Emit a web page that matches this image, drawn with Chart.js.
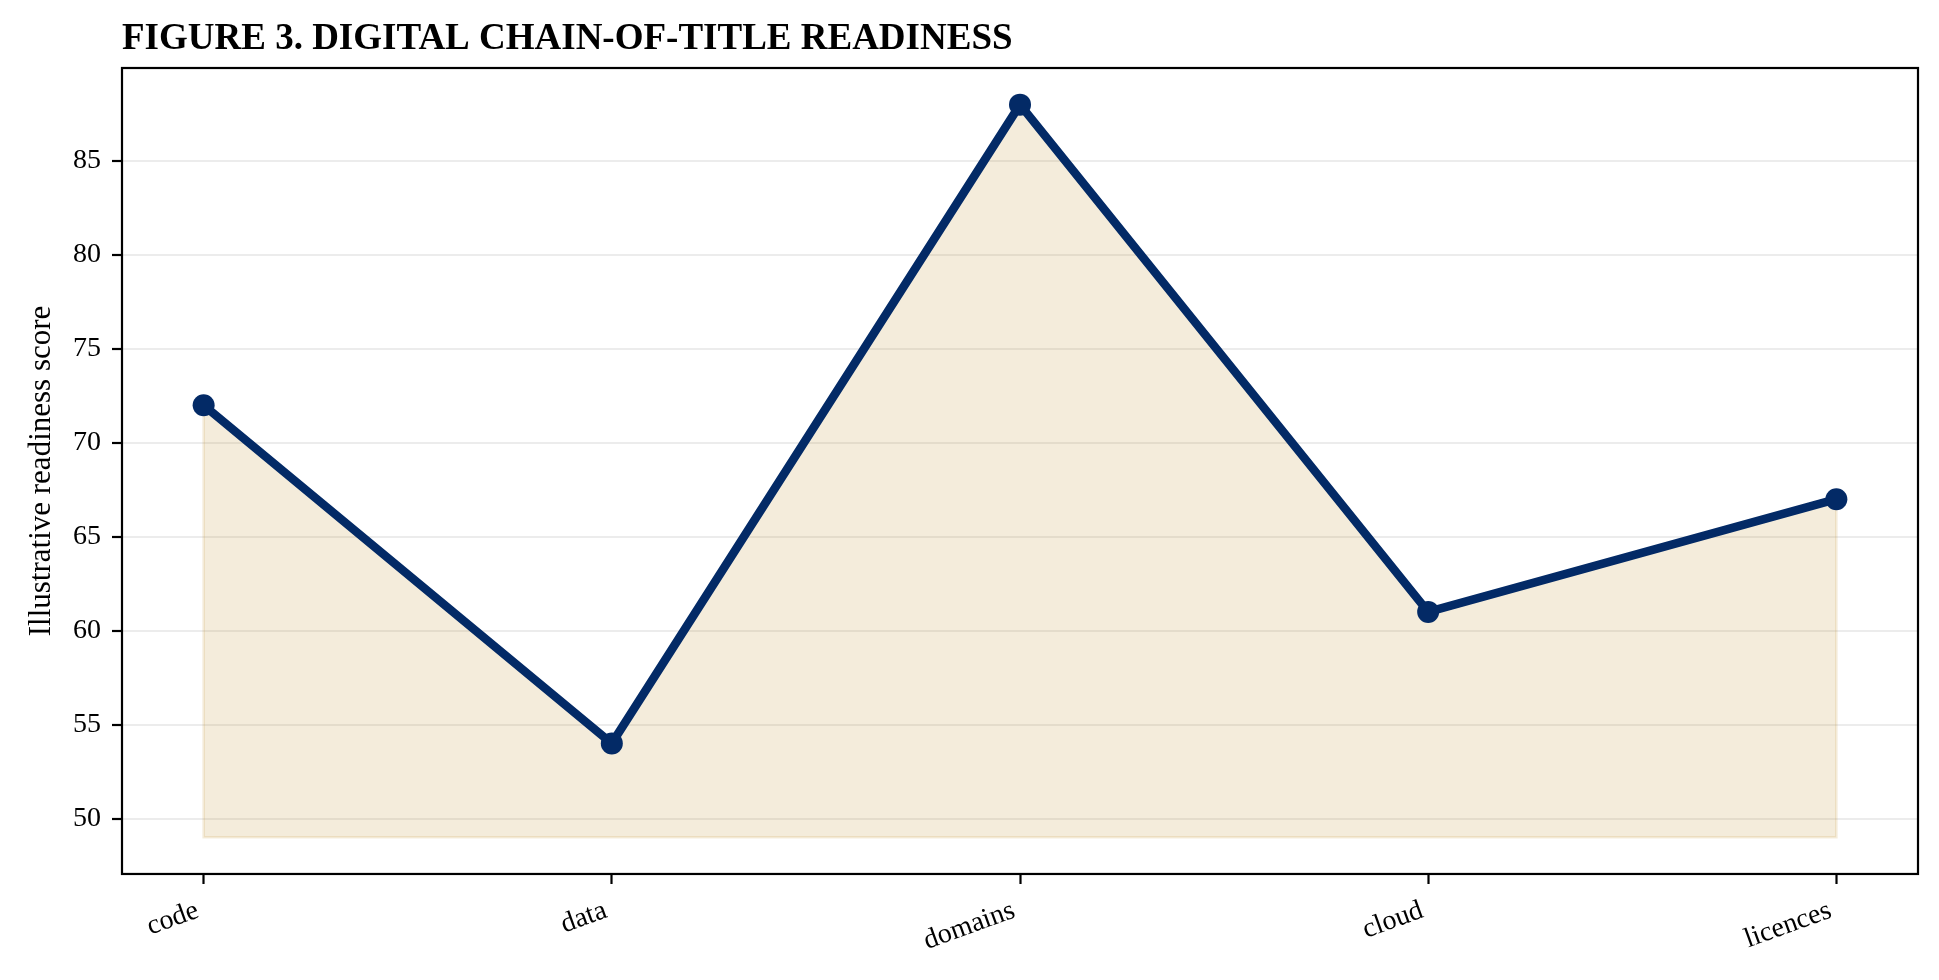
<!DOCTYPE html>
<html>
<head>
<meta charset="utf-8">
<title>Figure 3</title>
<script src="https://cdn.jsdelivr.net/npm/chart.js@4.4.1/dist/chart.umd.min.js"></script>
<style>
  html, body { margin: 0; padding: 0; background: #fff; }
  #wrap { width: 1939px; height: 980px; position: relative; }
</style>
</head>
<body>
<div id="wrap"><canvas id="readinessChart"></canvas></div>
<script>
// values
const categories = ['code', 'data', 'domains', 'cloud', 'licences'];
const readiness = [72, 54, 88, 61, 67];
const fillBase = 49;
const yTicks = [50, 55, 60, 65, 70, 75, 80, 85];

const navy = '#032a66';
const fillColor = 'rgba(201, 162, 74, 0.2)';
const serif = '"Liberation Serif", "Times New Roman", "DejaVu Serif", serif';

// matplotlib style 5% margins
const lo = Math.min(fillBase, ...readiness);
const hi = Math.max(...readiness);
const pad = (hi - lo) * 0.05;
const xPad = (categories.length - 1) * 0.05;

// full box around plot area (spines)
const frame = {
    id: 'frame',
    afterDraw(chart) {
        const a = chart.chartArea;
        const ctx = chart.ctx;
        ctx.save();
        ctx.strokeStyle = '#000';
        ctx.lineWidth = 2.2;
        ctx.strokeRect(a.left, a.top, a.right - a.left, a.bottom - a.top);
        ctx.restore();
    }
};

// thin outline round the filled area, like fill_between's edge
const fillEdge = {
    id: 'fillEdge',
    beforeDatasetsDraw(chart) {
        const xs = chart.scales.x, ys = chart.scales.y;
        const last = readiness.length - 1;
        const ctx = chart.ctx;
        ctx.save();
        ctx.strokeStyle = fillColor;
        ctx.lineWidth = 2.5;
        ctx.beginPath();
        ctx.moveTo(xs.getPixelForValue(0), ys.getPixelForValue(readiness[0]));
        ctx.lineTo(xs.getPixelForValue(0), ys.getPixelForValue(fillBase));
        ctx.lineTo(xs.getPixelForValue(last), ys.getPixelForValue(fillBase));
        ctx.lineTo(xs.getPixelForValue(last), ys.getPixelForValue(readiness[last]));
        ctx.stroke();
        ctx.restore();
    }
};

document.addEventListener('DOMContentLoaded', () => {

    const ctx = document.getElementById('readinessChart').getContext('2d');

    new Chart(ctx, {
        type: 'line',
        data: {
            datasets: [{
                label: 'Readiness',
                data: readiness.map((v, i) => ({ x: i, y: v })),
                borderColor: navy,
                borderWidth: 8.5,
                borderJoinStyle: 'round',
                borderCapStyle: 'round',
                tension: 0,
                pointRadius: 11,
                pointHoverRadius: 11,
                pointBorderWidth: 0,
                pointBackgroundColor: navy,
                fill: { value: fillBase },
                backgroundColor: fillColor
            }]
        },
        options: {
            responsive: true,
            maintainAspectRatio: false,
            devicePixelRatio: 1,
            animation: false,
            layout: { padding: { left: 6, right: 21, top: 0, bottom: 12 } },
            plugins: {
                legend: { display: false },
                tooltip: { enabled: false },
                title: {
                    display: true,
                    text: 'FIGURE 3. DIGITAL CHAIN-OF-TITLE READINESS',
                    align: 'start',
                    fullSize: false,
                    color: '#000',
                    font: { family: serif, size: 37, weight: 'bold', lineHeight: 1.2 },
                    padding: { top: 17, bottom: 6.6 }
                }
            },
            scales: {
                x: {
                    type: 'linear',
                    min: -xPad,
                    max: categories.length - 1 + xPad,
                    afterBuildTicks: scale => {
                        scale.ticks = categories.map((c, i) => ({ value: i }));
                    },
                    ticks: {
                        autoSkip: false,
                        minRotation: 20,
                        maxRotation: 20,
                        padding: 10,
                        labelOffset: -6,
                        color: '#000',
                        font: { family: serif, size: 28 },
                        callback: value => categories[value]
                    },
                    grid: {
                        drawOnChartArea: false,
                        tickLength: 10,
                        tickWidth: 2.2,
                        tickColor: '#000'
                    },
                    border: { display: false }
                },
                y: {
                    min: lo - pad,
                    max: hi + pad,
                    afterBuildTicks: scale => {
                        scale.ticks = yTicks.map(v => ({ value: v }));
                    },
                    ticks: {
                        padding: 11,
                        color: '#000',
                        font: { family: serif, size: 28 },
                        callback: value => value
                    },
                    grid: {
                        color: '#ececec',
                        lineWidth: 2,
                        tickLength: 10,
                        tickWidth: 2.2,
                        tickColor: '#000'
                    },
                    border: { display: false },
                    title: {
                        display: true,
                        text: 'Illustrative readiness score',
                        color: '#000',
                        font: { family: serif, size: 31, lineHeight: 1.2 },
                        padding: { top: 17.4, bottom: 1.4 }
                    }
                }
            }
        },
        plugins: [fillEdge, frame]
    });
})
</script>
</body>
</html>
